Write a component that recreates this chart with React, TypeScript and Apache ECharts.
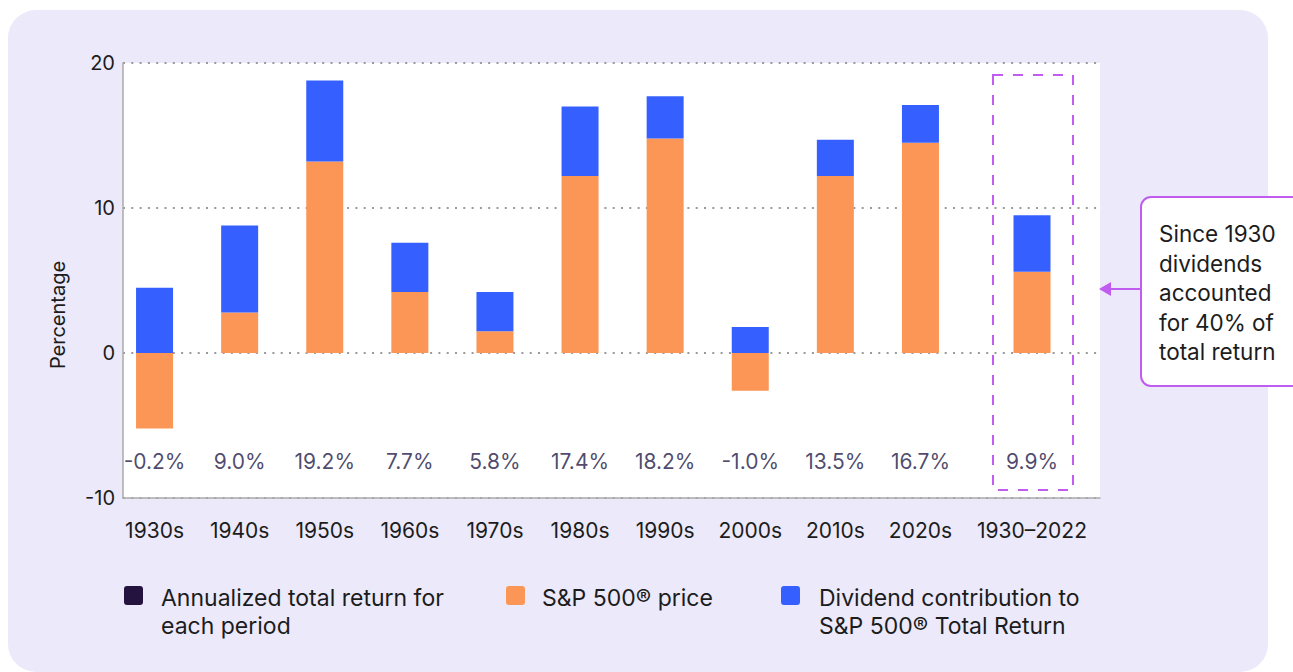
import React, { useEffect, useRef } from "react";
import * as echarts from "echarts";

const categories = ["1930s", "1940s", "1950s", "1960s", "1970s", "1980s", "1990s", "2000s", "2010s", "2020s", "1930–2022"];
const priceReturn = [-5.2, 2.8, 13.2, 4.2, 1.5, 12.2, 14.8, -2.6, 12.2, 14.5, 5.6];
const dividendContribution = [4.5, 6.0, 5.6, 3.4, 2.7, 4.8, 2.9, 1.8, 2.5, 2.6, 3.9];
const totalReturn = [-0.2, 9.0, 19.2, 7.7, 5.8, 17.4, 18.2, -1.0, 13.5, 16.7, 9.9];
const yTicks = [-10, 0, 10, 20];

const FONT = "Inter, 'Noto Sans', sans-serif";
const ORANGE = "#fb9656";
const BLUE = "#3560ff";
const DARK = "#24133f";
const PURPLE = "#c05cf0";
const TEXT = "#1c1c1c";
const LABEL_Y = -7.5;

export default function App() {
  const ref = useRef<HTMLDivElement>(null);
  useEffect(() => {
    document.body.style.margin = "0";
    const chart = echarts.init(ref.current!, undefined, { renderer: "svg" });
    const decades = 10;
    const groups = [
      { cats: categories.slice(0, decades), price: priceReturn.slice(0, decades), div: dividendContribution.slice(0, decades), tot: totalReturn.slice(0, decades) },
      { cats: categories.slice(decades), price: priceReturn.slice(decades), div: dividendContribution.slice(decades), tot: totalReturn.slice(decades) },
    ];
    const yMin = yTicks[0];
    const yMax = yTicks[yTicks.length - 1];
    const hiddenY = (gi: number) => ({
      type: "value", gridIndex: gi, min: yMin, max: yMax, interval: 10,
      axisLine: { show: false }, axisLabel: { show: false }, axisTick: { show: false }, splitLine: { show: false },
    });
    const series: any[] = [];
    groups.forEach((g, i) => {
      const gi = i + 1;
      series.push({
        name: "S&P 500® price", type: "bar", stack: "s" + gi, xAxisIndex: gi, yAxisIndex: gi,
        data: g.price, barWidth: 37, itemStyle: { color: ORANGE },
      });
      series.push({
        name: "Dividend contribution", type: "bar", stack: "s" + gi, xAxisIndex: gi, yAxisIndex: gi,
        data: g.div, barWidth: 37, itemStyle: { color: BLUE },
      });
      series.push({
        name: "Annualized total return", type: "scatter", xAxisIndex: gi, yAxisIndex: gi,
        data: g.tot.map((v) => ({ value: LABEL_Y, total: v })),
        symbolSize: 1, itemStyle: { color: "rgba(0,0,0,0)" },
        label: {
          show: true, position: "inside", fontFamily: FONT, fontSize: 21, color: "#221947",
          formatter: (p: any) => p.data.total.toFixed(1) + "%",
        },
      });
    });

    const legendItems = [
      { x: 124, color: DARK, text: "Annualized total return for\neach period", tx: 161 },
      { x: 506, color: ORANGE, text: "S&P 500® price", tx: 542 },
      { x: 781, color: BLUE, text: "Dividend contribution to\nS&P 500® Total Return", tx: 819 },
    ];
    const graphics: any[] = [
      { type: "rect", z: -10, shape: { x: 8, y: 10, width: 1260, height: 662, r: 28 }, style: { fill: "#ebe9fa" } },
      {
        type: "text", x: 58, y: 315, rotation: Math.PI / 2,
        style: { text: "Percentage", fontFamily: FONT, fontSize: 20, fill: TEXT, align: "center", verticalAlign: "middle" },
      },
      { type: "rect", z: 10, shape: { x: 993, y: 75, width: 80, height: 415 }, style: { fill: "none", stroke: PURPLE, lineWidth: 2, lineDash: [10, 10] } },
      { type: "line", z: 10, shape: { x1: 1110, y1: 289, x2: 1141, y2: 289 }, style: { stroke: PURPLE, lineWidth: 2 } },
      { type: "polygon", z: 10, shape: { points: [[1099, 289], [1111, 282], [1111, 296]] }, style: { fill: PURPLE } },
      { type: "rect", z: 10, shape: { x: 1141, y: 197, width: 200, height: 189, r: 10 }, style: { fill: "#ffffff", stroke: PURPLE, lineWidth: 2 } },
      {
        type: "text", z: 11, x: 1159, y: 219,
        style: {
          text: "Since 1930\ndividends\naccounted\nfor 40% of\ntotal return",
          fontFamily: FONT, fontSize: 22.5, lineHeight: 29.5, fill: TEXT, verticalAlign: "top",
        },
      },
    ];
    legendItems.forEach((l) => {
      graphics.push({ type: "rect", shape: { x: l.x, y: 586, width: 19, height: 19, r: 3 }, style: { fill: l.color } });
      graphics.push({
        type: "text", x: l.tx, y: 584,
        style: { text: l.text, fontFamily: FONT, fontSize: 23, lineHeight: 28, fill: TEXT, verticalAlign: "top" },
      });
    });

    chart.setOption({
      animation: false,
      textStyle: { fontFamily: FONT },
      grid: [
        { left: 123, top: 63, width: 977, height: 435, show: true, backgroundColor: "#ffffff", borderWidth: 0 },
        { left: 112, top: 63, width: 851, height: 435 },
        { left: 989, top: 63, width: 86, height: 435 },
      ],
      xAxis: [
        {
          type: "value", gridIndex: 0, min: 0, max: 1,
          axisLine: { show: true, onZero: false, lineStyle: { color: "#aaaaaa", width: 1.5 } },
          axisLabel: { show: false }, axisTick: { show: false }, splitLine: { show: false },
        },
        ...groups.map((g, i) => ({
          type: "category", gridIndex: i + 1, data: g.cats,
          axisLine: { show: false }, axisTick: { show: false },
          axisLabel: { margin: 22, fontFamily: FONT, fontSize: 21, color: TEXT, interval: 0 },
        })),
      ],
      yAxis: [
        {
          type: "value", gridIndex: 0, min: yMin, max: yMax, interval: 10,
          axisLine: { show: true, lineStyle: { color: "#aaaaaa", width: 1.5 } },
          axisTick: { show: false },
          axisLabel: { margin: 8, fontFamily: FONT, fontSize: 20, color: TEXT },
          splitLine: { show: true, lineStyle: { color: "#9a9a9a", width: 2, type: [2, 6.3] } },
        },
        hiddenY(1),
        hiddenY(2),
      ],
      series,
      graphic: graphics,
    });
    return () => chart.dispose();
  }, []);
  return <div ref={ref} style={{ width: 1293, height: 672 }} />;
}
